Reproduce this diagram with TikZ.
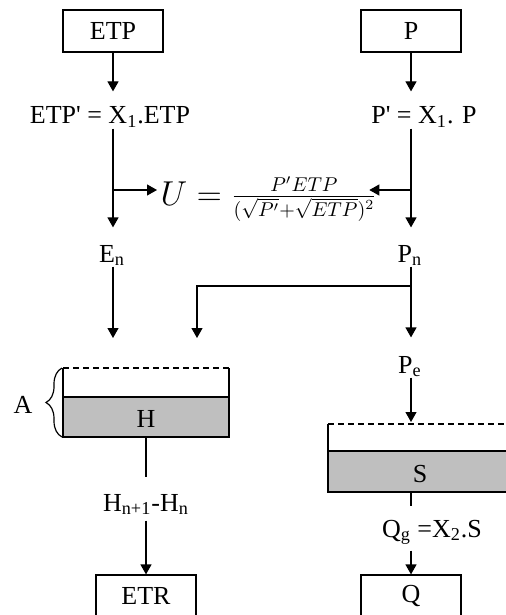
\documentclass[tikz,border=0pt]{standalone}
\usepackage{fontspec}
\setmainfont{Liberation Serif}
\usetikzlibrary{arrows.meta,decorations.pathreplacing}
\newcommand\fracpart[1]{\hbox{\fontsize{10.3}{12}\selectfont$#1$}}
\begin{document}
\begin{tikzpicture}[x=0.5pt,y=-0.5pt,>={Triangle[length=5pt,width=5.5pt]},
    line width=0.6pt,font=\fontsize{13}{15}\selectfont,
    box/.style={draw,minimum width=50pt,minimum height=21pt,inner sep=0pt},
    lbl/.style={inner sep=0pt,anchor=base,text height=9pt,text depth=2pt}]
    \useasboundingbox (0,0) rectangle (506,615);
    \clip (0,0) rectangle (506,615);
    % boxes
    \node[box] (etp) at (113,31) {ETP};
    \node[box] (p) at (411,31) {P};
    \node[box] (etr) at (146,596) {ETR};
    \node[box] (q) at (411,596) {Q};
    % labels
    \node[lbl] (etpp) at (110,124) {ETP\textquotesingle{} = X\textsubscript{1}.ETP};
    \node[lbl] (pp) at (424,124) {P\textquotesingle{} = X\textsubscript{1}. P};
    \node[lbl] (en) at (112,262) {E\textsubscript{n}};
    \node[lbl] (pn) at (410,262) {P\textsubscript{n}};
    \node[lbl] (pe) at (410,373) {P\textsubscript{e}};
    \node[lbl] (dh) at (146,511) {H\textsubscript{n+1}-H\textsubscript{n}};
    \node[lbl] (qg) at (432,537) {Q\textsubscript{g} =X\textsubscript{2}.S};
    \node[inner sep=0pt,anchor=base west,font=\fontsize{16}{18}\selectfont] (u)
      at (160,205) {$U=\frac{\fracpart{P'ETP}}{\fracpart{(\sqrt{P'}{+}\sqrt{ETP})^2}}$};
    % reservoir H
    \filldraw[fill=black!25] (63,397) rectangle (229,437);
    \draw (63,368) -- (63,437) (229,368) -- (229,437);
    \draw[dashed,dash pattern=on 3pt off 2pt] (63,368) -- (229,368);
    \node[lbl] (h) at (146,427) {H};
    \draw[decorate,decoration={brace,amplitude=8pt}] (62,437) -- (62,368);
    \node[lbl] (a) at (23,413) {A};
    % reservoir S
    \filldraw[fill=black!25] (328,451) rectangle (512,492);
    \draw (328,424) -- (328,451);
    \draw[dashed,dash pattern=on 3pt off 2pt] (328,424) -- (512,424);
    \node[lbl] (s) at (420,482) {S};
    % left column
    \draw[->,shorten >=7pt] (etp) -- (etp |- etpp.north);
    \draw[->,shorten >=8pt] (etpp.south -| etp) -- (etp |- en.north);
    \coordinate (lj) at (113,190);
    \draw[->,shorten >=1.5pt] (lj) -- (u.west |- lj);
    \coordinate (ein) at (113,338);
    \draw[->] (en.south -| etp) -- (ein);
    \coordinate (hb) at (146,437);
    \draw[shorten >=7.5pt] (hb) -- (dh.north);
    \draw[->,shorten <=2.5pt] (dh.south) -- (etr.north);
    % right column
    \draw[->,shorten >=7pt] (p) -- (p |- pp.north);
    \draw[->,shorten >=8pt] (pp.south -| p) -- (p |- pn.north);
    \coordinate (rj) at (411,190);
    \draw[->,shorten >=-4pt] (rj) -- (u.east |- rj);
    \draw[->,shorten >=8.5pt] (pn.south -| p) -- (p |- pe.north);
    \coordinate (pj) at (411,286);
    \coordinate (hin) at (197,338);
    \draw[->] (pj) -| (hin);
    \coordinate (stop) at (411,424);
    \draw[->,shorten >=1pt] (pe.south -| p) -- (stop);
    \coordinate (sb) at (411,492);
    \draw[shorten >=6pt] (sb) -- (qg.north -| q);
    \draw[->,shorten <=4.5pt] (qg.south -| q) -- (q.north);
\end{tikzpicture}
\end{document}
